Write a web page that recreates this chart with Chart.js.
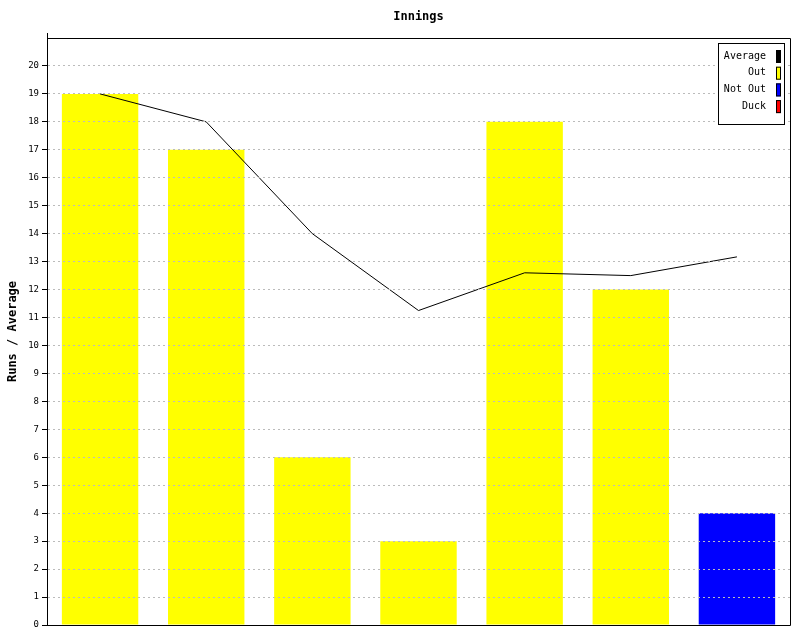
<!DOCTYPE html>
<html>
<head>
<meta charset="utf-8">
<script src="https://cdn.jsdelivr.net/npm/chart.js@4"></script>
<style>
  body { margin: 0; background: #fff; }
  #wrap { width: 800px; height: 640px; }
</style>
</head>
<body>
<div id="wrap"><canvas id="inningsChart" width="800" height="640"></canvas></div>
<script>
// ================================
// INNINGS DATA
// ================================
const innings = ['1', '2', '3', '4', '5', '6', '7'];
const outRuns = [19, 17, 6, 3, 18, 12, null];
const notOutRuns = [null, null, null, null, null, null, 4];
const duckRuns = [null, null, null, null, null, null, null];
const average = [19, 18, 14, 11.25, 12.6, 12.5, 13.17];

const MONO = '"DejaVu Sans Mono", "Liberation Mono", monospace';

// frame, title and legend box drawn on top
const decorations = {
  id: 'decorations',
  afterDraw(chart) {
    const ctx = chart.ctx;
    const a = chart.chartArea;
    ctx.save();
    ctx.strokeStyle = '#000';
    ctx.lineWidth = 1;
    ctx.setLineDash([]);
    ctx.beginPath();
    ctx.moveTo(a.left + 0.5, a.top - 5);
    ctx.lineTo(a.left + 0.5, a.bottom + 0.5);
    ctx.lineTo(a.right + 0.5, a.bottom + 0.5);
    ctx.lineTo(a.right + 0.5, a.top + 0.5);
    ctx.lineTo(a.left + 0.5, a.top + 0.5);
    ctx.stroke();

    // title
    ctx.fillStyle = '#000';
    ctx.font = 'bold 12px ' + MONO;
    ctx.textAlign = 'center';
    ctx.textBaseline = 'middle';
    ctx.fillText('Innings', (a.left + a.right) / 2, 17);

    // legend
    const items = chart.data.datasets;
    const bx = a.right - 72, by = a.top + 5, bw = 66, bh = 81;
    ctx.fillStyle = '#fff';
    ctx.fillRect(bx, by, bw, bh);
    ctx.strokeRect(bx + 0.5, by + 0.5, bw, bh);
    ctx.font = '10px ' + MONO;
    ctx.textAlign = 'right';
    items.forEach((ds, i) => {
      const cy = by + 13 + i * 16.7;
      ctx.fillStyle = '#000';
      ctx.fillText(ds.label, bx + 48, cy);
      ctx.fillStyle = ds.legendColor;
      ctx.fillRect(bx + 58, cy - 6, 5, 13);
      ctx.strokeRect(bx + 58.5, cy - 5.5, 4, 12);
    });
    ctx.restore();
  }
};

new Chart(document.getElementById('inningsChart'), {
  data: {
    labels: innings,
    datasets: [
      {
        type: 'line',
        label: 'Average',
        data: average,
        borderColor: '#000',
        borderWidth: 1,
        pointRadius: 0,
        tension: 0,
        legendColor: '#000',
        order: 0
      },
      {
        type: 'bar',
        label: 'Out',
        data: outRuns,
        backgroundColor: '#ffff00',
        legendColor: '#ffff00',
        order: 1
      },
      {
        type: 'bar',
        label: 'Not Out',
        data: notOutRuns,
        backgroundColor: '#0000ff',
        legendColor: '#0000ff',
        order: 1
      },
      {
        type: 'bar',
        label: 'Duck',
        data: duckRuns,
        backgroundColor: '#ff0000',
        legendColor: '#ff0000',
        order: 1
      }
    ]
  },
  options: {
    responsive: false,
    animation: false,
    layout: { padding: { top: 38, right: 10, bottom: 15, left: 0 } },
    datasets: {
      bar: { categoryPercentage: 1, barPercentage: 0.72 }
    },
    plugins: {
      legend: { display: false },
      title: { display: false },
      tooltip: { enabled: false }
    },
    scales: {
      x: {
        stacked: true,
        display: false
      },
      y: {
        min: 0,
        max: 21,
        afterFit(scale) { scale.width = 47; },
        title: {
          display: true,
          text: 'Runs / Average',
          color: '#000',
          font: { family: MONO, size: 12, weight: 'bold' },
          padding: { top: 6, bottom: 0 }
        },
        ticks: {
          stepSize: 1,
          color: '#000',
          padding: 3,
          font: { family: MONO, size: 9 },
          callback: (v) => (v > 20 ? '' : v)
        },
        grid: {
          z: 1,
          color: (c) => (c.tick && (c.tick.value === 0 || c.tick.value > 20) ? 'rgba(0,0,0,0)' : '#bbbbbb'),
          tickColor: (c) => (c.tick && c.tick.value > 20 ? 'rgba(0,0,0,0)' : '#000'),
          tickLength: 5,
          tickBorderDash: []
        },
        border: { display: true, z: 2, color: '#000', dash: [2, 3] }
      }
    }
  },
  plugins: [decorations]
});
</script>
</body>
</html>
